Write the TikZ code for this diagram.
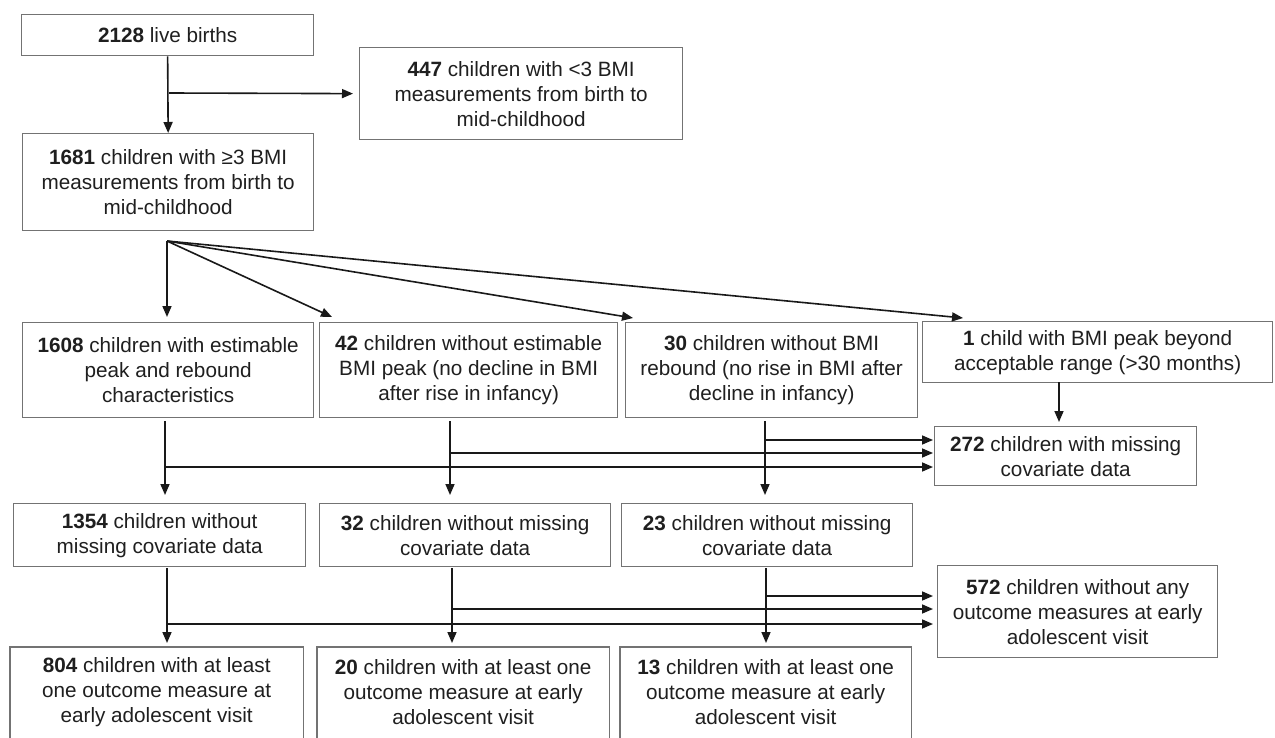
\documentclass[tikz,border=0pt]{standalone}
\usepackage{fontspec}
\setmainfont{Liberation Sans}
\usetikzlibrary{arrows.meta}
\begin{document}
\begin{tikzpicture}[x=1pt,y=-1pt,
  boxtext/.style={inner sep=0pt, align=center, anchor=north west,
    font=\fontsize{20.7}{25}\selectfont, text=black!88},
  box/.style={boxtext, draw=black!55, line width=1.3pt},
  boxline/.style={draw=black!55, line width=1.3pt},
  arr/.style={draw=black!90, line width=1.6pt, -{Triangle[length=11pt,width=9pt]}}]
\useasboundingbox[fill=white] (0,0) rectangle (1275,738);

% row 1
\node[box, minimum width=292pt, minimum height=41pt] (b2128) at (21,14) {\textbf{2128} live births};
\node[box, minimum width=323pt, minimum height=92pt] (b447) at (359,47) {\textbf{447} children with <3 BMI\\measurements from birth to\\mid-childhood};
\node[box, minimum width=291pt, minimum height=97pt] (b1681) at (22,133) {\textbf{1681} children with ≥3 BMI\\measurements from birth to\\mid-childhood};

% row 2
\node[box, minimum width=291pt, minimum height=95pt] (b1608) at (22,322) {\textbf{1608} children with estimable\\peak and rebound\\characteristics};
\node[box, minimum width=298pt, minimum height=95pt] (b42) at (319,322) {\textbf{42} children without estimable\\BMI peak (no decline in BMI\\after rise in infancy)};
\node[box, minimum width=292pt, minimum height=95pt] (b30) at (625,322) {\textbf{30} children without BMI\\rebound (no rise in BMI after\\decline in infancy)};
\node[box, minimum width=350pt, minimum height=61pt] (b1) at (922,321) {\textbf{1} child with BMI peak beyond\\acceptable range (>30 months)};
\node[box, minimum width=262pt, minimum height=59pt] (b272) at (934,426) {\textbf{272} children with missing\\covariate data};

% row 3
\node[box, minimum width=292pt, minimum height=63pt] (b1354) at (13,503) {\textbf{1354} children without\\missing covariate data};
\node[box, minimum width=291pt, minimum height=63pt] (b32) at (319,503) {\textbf{32} children without missing\\covariate data};
\node[box, minimum width=291pt, minimum height=63pt] (b23) at (621,503) {\textbf{23} children without missing\\covariate data};
\node[box, minimum width=280pt, minimum height=92pt] (b572) at (937,565) {\textbf{572} children without any\\outcome measures at early\\adolescent visit};

% row 4 (cut off at the bottom)
\node[boxtext, minimum width=293pt, minimum height=90pt] (b804) at (10,647) {\textbf{804} children with at least\\one outcome measure at\\early adolescent visit};
\node[boxtext, minimum width=292pt, minimum height=90pt] (b20) at (317,647) {\textbf{20} children with at least one\\outcome measure at early\\adolescent visit};
\node[boxtext, minimum width=291pt, minimum height=90pt] (b13) at (620,647) {\textbf{13} children with at least one\\outcome measure at early\\adolescent visit};
\foreach \n in {b804,b20,b13}{
  \draw[boxline] ([yshift=-12pt]\n.south west) -- (\n.north west) -- (\n.north east) -- ([yshift=-12pt]\n.south east);
}

% connectors row 1
\draw[arr] (b2128.south) -- (b1681.north);
\coordinate (j1) at (169,93);
\draw[arr, shorten >=6pt] (j1) -- (b447.west);

% branching
\coordinate (br) at (167,241);
\coordinate (t42) at (332,317);
\coordinate (t30) at (633,318);
\coordinate (t1) at (963,318);
\draw[arr, shorten >=5pt] (br) -- (br |- b1608.north);
\draw[arr] (br) -- (t42);
\draw[arr] (br) -- (t30);
\draw[arr] (br) -- (t1);

% row 2 -> row 3
\coordinate (s1) at (165,421);
\coordinate (s2) at (450,421);
\coordinate (s3) at (765,421);
\foreach \s in {s1,s2,s3}{
  \draw[arr, shorten >=8pt] (\s) -- (\s |- b1354.north);
}
\coordinate (h3) at (765,440);
\coordinate (h2) at (450,453);
\coordinate (h1) at (165,467);
\foreach \h in {h1,h2,h3}{
  \draw[arr, shorten >=1pt] (\h) -- (\h -| b272.west);
}
\coordinate (d1) at (1059,382);
\draw[arr, shorten >=4pt] (d1) -- (d1 |- b272.north);

% row 3 -> row 4
\coordinate (u1) at (167,568);
\coordinate (u2) at (452,568);
\coordinate (u3) at (766,568);
\foreach \s in {u1,u2,u3}{
  \draw[arr, shorten >=4pt] (\s) -- (\s |- b804.north);
}
\coordinate (k3) at (766,596);
\coordinate (k2) at (452,609);
\coordinate (k1) at (167,624);
\foreach \h in {k1,k2,k3}{
  \draw[arr, shorten >=4pt] (\h) -- (\h -| b572.west);
}
\end{tikzpicture}
\end{document}
